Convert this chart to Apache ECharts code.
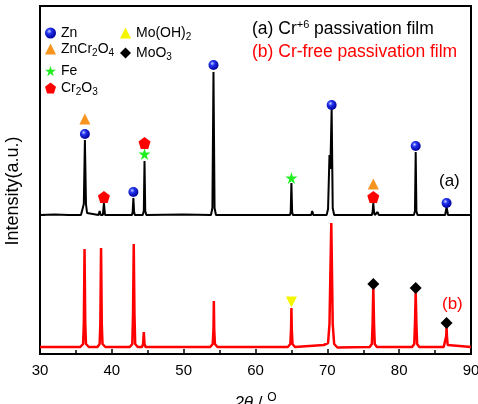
<!DOCTYPE html>
<html>
<head>
<meta charset="utf-8">
<script src="https://cdn.jsdelivr.net/npm/echarts@6/dist/echarts.min.js"></script>
<style>
  html, body { margin: 0; padding: 0; background: #fff; }
  #main { width: 478px; height: 404px; }
</style>
</head>
<body>
<div id="main"></div>
<script>
// XRD patterns, [2theta, intensity] (intensity in arbitrary units)
const traceA = [
  [30, 139], [32, 139.5], [34, 139], [35.7, 139], [35.95, 141], [36.1, 150], [36.25, 214], [36.4, 150], [36.55, 141], [36.8, 139],
  [38.15, 139], [38.3, 143], [38.45, 139], [38.75, 139], [38.9, 151], [39.05, 139],
  [42.8, 139], [42.9, 142], [43.0, 156], [43.1, 142], [43.2, 139],
  [44.3, 139], [44.45, 143], [44.55, 193], [44.65, 143], [44.8, 139],
  [50, 139.5], [53.8, 139], [54.0, 146], [54.15, 282], [54.3, 146], [54.5, 139],
  [60, 139], [64.8, 139], [64.9, 142], [65.0, 171], [65.1, 142], [65.2, 139],
  [67.75, 139], [67.9, 143], [68.05, 139],
  [69.9, 139], [70.1, 145], [70.3, 199], [70.42, 185], [70.6, 245], [70.75, 146], [70.95, 139],
  [76.2, 139], [76.3, 142], [76.4, 151], [76.5, 142], [76.6, 139], [76.85, 139], [77.0, 142], [77.15, 139],
  [82.05, 139], [82.2, 143], [82.3, 202], [82.4, 143], [82.55, 139],
  [86.4, 139], [86.6, 147], [86.8, 139], [90, 139]
];

const traceB = [
  [30, 7], [35.6, 7], [36.0, 10], [36.1, 30], [36.2, 105], [36.3, 30], [36.4, 10], [36.8, 7],
  [38.0, 7], [38.3, 10], [38.4, 30], [38.5, 106], [38.6, 30], [38.7, 10], [39.1, 7],
  [42.5, 7], [42.85, 10], [42.95, 40], [43.05, 110], [43.15, 40], [43.25, 10], [43.6, 7],
  [44.2, 7], [44.35, 10], [44.45, 22], [44.55, 10], [44.7, 7],
  [53.7, 7], [54.05, 10], [54.15, 25], [54.2, 53], [54.25, 25], [54.35, 10], [54.7, 7],
  [64.5, 7], [64.85, 10], [64.95, 25], [65.0, 46], [65.05, 25], [65.15, 10], [65.5, 7],
  [69.5, 9], [70.1, 11], [70.3, 30], [70.55, 131], [70.75, 30], [70.95, 10], [71.4, 6.5],
  [75.9, 7], [76.2, 10], [76.3, 30], [76.4, 67], [76.5, 30], [76.6, 10], [76.9, 7],
  [81.8, 7], [82.1, 10], [82.2, 30], [82.3, 62], [82.4, 30], [82.5, 10], [82.8, 7],
  [86.2, 7], [86.45, 9], [86.55, 18], [86.6, 27], [86.65, 18], [86.75, 9], [87.0, 7], [90, 7]
];

// phase markers
const znPts = [[36.25, 220], [43.0, 162], [54.15, 289], [70.6, 249], [82.3, 208], [86.6, 151]];
const znCr2O4Pts = [[36.25, 235], [76.4, 170]];
const fePts = [[44.55, 200], [65.0, 176]];
const cr2o3Pts = [[38.9, 157], [44.55, 211], [76.4, 157]];
const moOH2Pts = [[65.0, 52]];
const moO3Pts = [[76.4, 70], [82.3, 66], [86.6, 31]];

const xTicks = [30, 40, 50, 60, 70, 80, 90];
const baselineA = 139;

const chart = echarts.init(document.getElementById('main'));

const font = 'Liberation Sans, Arial, sans-serif';
const starPath = 'path://M50,0 L61,35 L98,35 L68,57 L79,91 L50,70 L21,91 L32,57 L2,35 L39,35 Z';
const pentPath = 'path://M50,0 L100,38 L81,100 L19,100 L0,38 Z';
const ball = {
  type: 'radial', x: 0.38, y: 0.35, r: 0.65,
  colorStops: [
    { offset: 0, color: '#c8d0ff' },
    { offset: 0.35, color: '#2233ee' },
    { offset: 1, color: '#00009a' }
  ]
};

const rich = {
  n: { fontSize: 14, color: '#000', fontFamily: font },
  s: { fontSize: 10, color: '#000', fontFamily: font, padding: [8, 0, 0, 0] }
};
const labels = {
  'Zn': '{n|Zn}',
  'ZnCr2O4': '{n|ZnCr}{s|2}{n|O}{s|4}',
  'Fe': '{n|Fe}',
  'Cr2O3': '{n|Cr}{s|2}{n|O}{s|3}',
  'Mo(OH)2': '{n|Mo(OH)}{s|2}',
  'MoO3': '{n|MoO}{s|3}'
};

function legendAt(name, left, top) {
  return {
    data: [name],
    left: left,
    top: top,
    padding: 0,
    itemWidth: 11,
    itemHeight: 11,
    formatter: function (n) { return labels[n]; },
    textStyle: { rich: rich, fontSize: 14 }
  };
}

function markSeries(name, data, symbol, size, color, rotate) {
  return {
    name: name,
    type: 'scatter',
    data: data,
    symbol: symbol,
    symbolSize: size,
    symbolRotate: rotate || 0,
    itemStyle: { color: color, opacity: 1 },
    z: 5
  };
}

const option = {
  animation: false,
  backgroundColor: '#fff',
  grid: {
    left: 40, right: 7, top: 6, bottom: 50,
    containLabel: false, outerBoundsMode: 'none',
    show: true, borderColor: '#000', borderWidth: 2
  },
  legend: [
    legendAt('Zn', 45, 26),
    legendAt('ZnCr2O4', 45, 42),
    legendAt('Fe', 45, 64),
    legendAt('Cr2O3', 45, 81),
    legendAt('Mo(OH)2', 120, 26),
    legendAt('MoO3', 120, 46)
  ],
  xAxis: {
    type: 'value',
    min: xTicks[0],
    max: xTicks[xTicks.length - 1],
    interval: 10,
    name: '{i|2θ} / {o|O}',
    nameLocation: 'middle',
    nameGap: 38,
    nameTextStyle: {
      fontSize: 17, color: '#000', fontFamily: font,
      rich: {
        i: { fontSize: 17, fontStyle: 'italic', fontFamily: font, color: '#000' },
        o: { fontSize: 12, fontFamily: font, color: '#000', padding: [0, 0, 10, 0] }
      }
    },
    axisLine: { lineStyle: { color: '#000', width: 2 } },
    axisTick: { inside: true, length: 5, lineStyle: { color: '#000', width: 1.5 } },
    minorTick: { show: true, splitNumber: 2, length: 4, lineStyle: { color: '#000', width: 1.5 } },
    axisLabel: { fontSize: 15, color: '#000', fontFamily: font, margin: 9 },
    splitLine: { show: false }
  },
  yAxis: {
    type: 'value',
    min: 0,
    max: 348,
    name: 'Intensity(a.u.)',
    nameLocation: 'middle',
    nameGap: 18,
    nameTextStyle: { fontSize: 18, color: '#000', fontFamily: font, padding: [0, 22, 0, 0] },
    axisLine: { lineStyle: { color: '#000', width: 2 } },
    axisTick: { inside: true, length: 5, customValues: [baselineA], lineStyle: { color: '#000', width: 1.5 } },
    axisLabel: { show: false },
    splitLine: { show: false }
  },
  graphic: [
    {
      type: 'text', left: 252, top: 19,
      style: {
        text: '{n|(a) Cr}{p|+6}{n| passivation film}',
        rich: {
          n: { fontSize: 17.5, fill: '#000', fontFamily: font },
          p: { fontSize: 11, fill: '#000', fontFamily: font, padding: [0, 0, 9, 0] }
        }
      }
    },
    {
      type: 'text', left: 252, top: 43,
      style: { text: '(b) Cr-free passivation film', fontSize: 17.5, fill: '#ff0000', fontFamily: font }
    },
    {
      type: 'text', left: 439, top: 173,
      style: { text: '(a)', fontSize: 17, fill: '#000', fontFamily: font }
    },
    {
      type: 'text', left: 442, top: 296,
      style: { text: '(b)', fontSize: 17, fill: '#ff0000', fontFamily: font }
    }
  ],
  series: [
    {
      name: '(a)',
      type: 'line',
      data: traceA,
      showSymbol: false,
      lineStyle: { color: '#000', width: 2 },
      z: 3
    },
    {
      name: '(b)',
      type: 'line',
      data: traceB,
      showSymbol: false,
      lineStyle: { color: '#ff0000', width: 2.5 },
      z: 3
    },
    markSeries('Zn', znPts, 'circle', 10, ball),
    markSeries('ZnCr2O4', znCr2O4Pts, 'triangle', 11, '#f7941d'),
    markSeries('Fe', fePts, starPath, 12, '#22ee22'),
    markSeries('Cr2O3', cr2o3Pts, pentPath, 12, '#ff0000'),
    markSeries('Mo(OH)2', moOH2Pts, 'triangle', 11, '#f5f500', 180),
    markSeries('MoO3', moO3Pts, 'diamond', 12, '#000')
  ]
};

chart.setOption(option);
</script>
</body>
</html>
